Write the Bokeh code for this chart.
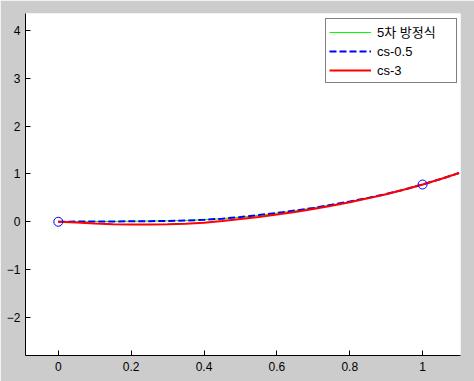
from bokeh.plotting import figure
from bokeh.models import Range1d, Legend, LegendItem, FixedTicker
from bokeh.embed import file_html
from bokeh.resources import INLINE

# data
x_curve = [0.0, 0.05, 0.1, 0.15, 0.2, 0.25, 0.3, 0.35, 0.4, 0.45, 0.5, 0.55,
           0.6, 0.65, 0.7, 0.75, 0.8, 0.85, 0.9, 0.95, 1.0, 1.05, 1.1]
y_poly5 = [0.0, 0.002, 0.004, 0.006, 0.01, 0.014, 0.02, 0.028, 0.042, 0.065, 0.095, 0.135,
           0.18, 0.23, 0.29, 0.35, 0.42, 0.5, 0.58, 0.675, 0.78, 0.895, 1.02]
y_cs05 = [0.0, 0.003, 0.005, 0.007, 0.01, 0.013, 0.017, 0.025, 0.04, 0.065, 0.1, 0.14,
          0.185, 0.235, 0.29, 0.355, 0.425, 0.5, 0.58, 0.675, 0.78, 0.895, 1.02]
y_cs3 = [0.0, -0.015, -0.035, -0.05, -0.055, -0.055, -0.05, -0.04, -0.02, 0.015, 0.06, 0.1,
         0.15, 0.205, 0.265, 0.335, 0.41, 0.49, 0.575, 0.675, 0.78, 0.895, 1.02]
x_pts = [0.0, 1.0]
y_pts = [0.0, 0.78]

x_ticks = [0, 0.2, 0.4, 0.6, 0.8, 1]
y_ticks = [-2, -1, 0, 1, 2, 3, 4]
labels = ["5차 방정식", "cs-0.5", "cs-3"]

FONT = "Liberation Sans, Noto Sans CJK KR"

p = figure(width=474, height=381, output_backend="svg", toolbar_location=None,
           x_range=Range1d(-0.09, 1.104), y_range=Range1d(-2.80, 4.36),
           min_border_left=25, min_border_right=14, min_border_top=13, min_border_bottom=26)
p.background_fill_color = "white"
p.border_fill_color = "#cccccc"
p.outline_line_color = None
p.xgrid.visible = False
p.ygrid.visible = False

for ax in (p.xaxis[0], p.yaxis[0]):
    ax.axis_line_color = "black"
    ax.axis_line_width = 1
    ax.major_tick_in = 5
    ax.major_tick_out = 0
    ax.minor_tick_in = 0
    ax.minor_tick_out = 0
    ax.major_tick_line_color = "black"
    ax.major_label_text_font = FONT
    ax.major_label_text_font_size = "12px"
    ax.major_label_text_color = "black"
p.xaxis[0].ticker = FixedTicker(ticks=x_ticks)
p.yaxis[0].ticker = FixedTicker(ticks=y_ticks)
p.xaxis[0].major_label_standoff = 6
p.yaxis[0].major_label_standoff = 5

r1 = p.line(x_curve, y_poly5, line_color="#00ff00", line_width=1)
r2 = p.line(x_curve, y_cs05, line_color="#0000ff", line_width=2, line_dash="7 3")
r3 = p.line(x_curve, y_cs3, line_color="#ff0000", line_width=2)
p.scatter(x_pts, y_pts, marker="circle", size=9, fill_color=None, line_color="#0000ff", line_width=1)

legend = Legend(items=[LegendItem(label=labels[0], renderers=[r1]),
                       LegendItem(label=labels[1], renderers=[r2]),
                       LegendItem(label=labels[2], renderers=[r3])],
                location=(300, 272), orientation="vertical")
legend.border_line_color = "black"
legend.border_line_width = 1
legend.background_fill_color = "white"
legend.background_fill_alpha = 1
legend.label_text_font = FONT
legend.label_text_font_size = "13px"
legend.label_text_color = "black"
legend.glyph_width = 42
legend.glyph_height = 18
legend.label_height = 18
legend.label_standoff = 6
legend.padding = 3
legend.spacing = 1
legend.margin = 0
legend.label_width = 76
p.add_layout(legend, "center")

open("out.html", "w").write(file_html(p, INLINE))
